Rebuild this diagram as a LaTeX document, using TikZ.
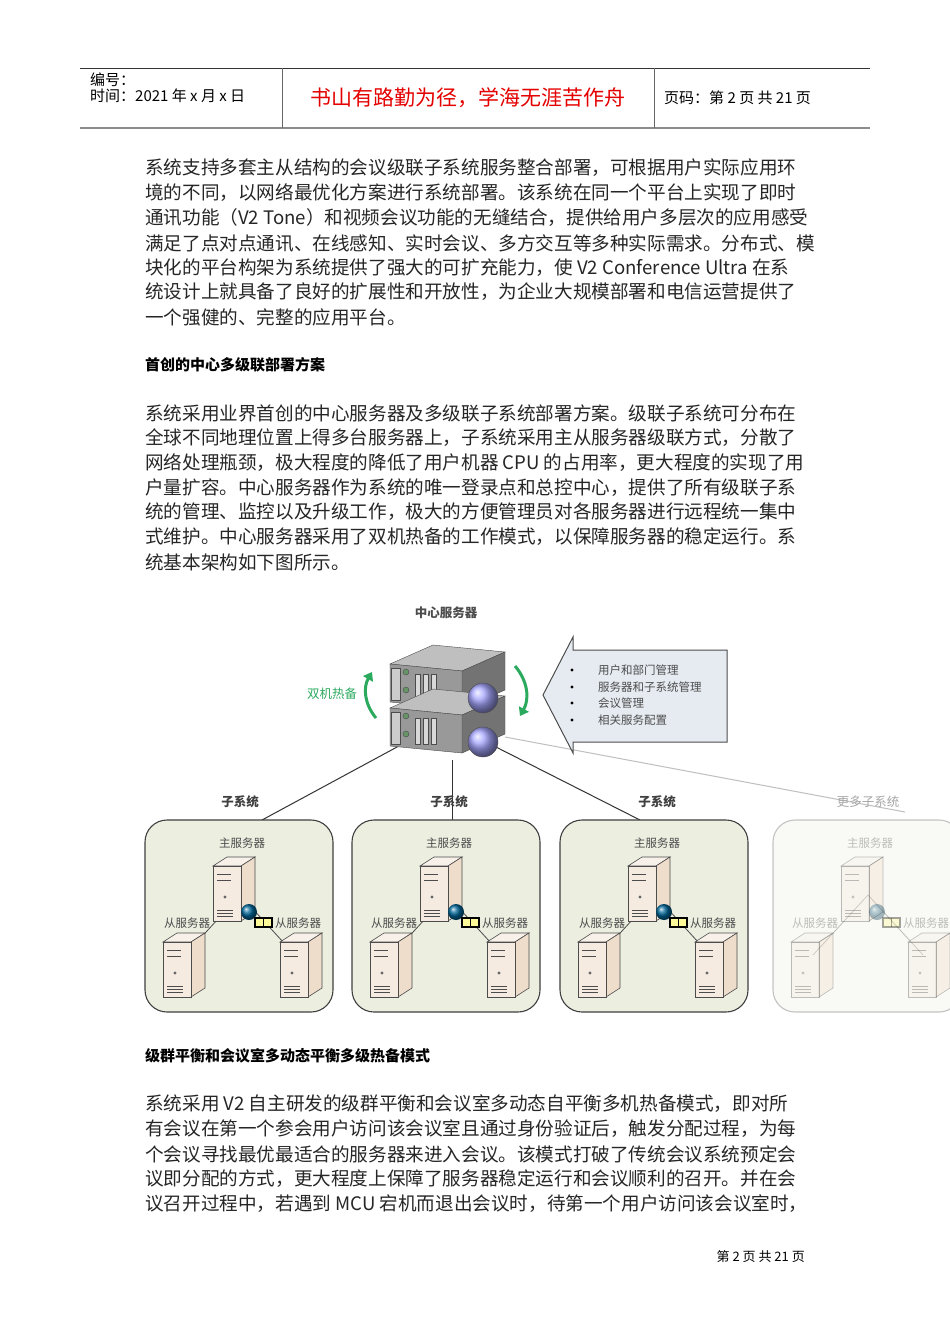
\documentclass[tikz,border=0pt]{standalone}
\usepackage{fontspec}
\setmainfont{Noto Sans CJK SC}
\usetikzlibrary{arrows.meta}
\definecolor{boxfill}{HTML}{ECEEE0}
\definecolor{arrfill}{HTML}{E6EBF1}
\definecolor{hot}{HTML}{2BAA5E}
\tikzset{x=1pt,y=-1pt,
 body/.style={anchor=west,inner sep=0pt,font=\fontsize{18.6}{22}\selectfont,text=black!85},
 head/.style={anchor=west,inner sep=0pt,font=\fontsize{15}{18}\selectfont\bfseries},
 small/.style={inner sep=0pt,font=\fontsize{11.5}{14}\selectfont,text=black!70},
 sub/.style={draw=black!75,line width=1.1pt,rounded corners=22pt,fill=boxfill},
 link/.style={draw=black!80,line width=1pt},
 hotarr/.style={draw=hot,line width=3pt,-{Triangle[length=8pt,width=11pt]}},
 pics/tower/.style={code={
   \fill[fill=#1!25!white,draw=black!70,line width=.6pt] (0,0)--(14,-9)--(42,-9)--(28,0)--cycle;
   \fill[fill=#1!60!white,draw=black!70,line width=.6pt] (28,0)--(42,-9)--(42,46)--(28,55)--cycle;
   \fill[fill=#1!35!white,draw=black!70,line width=.6pt] (0,0) rectangle (28,55);
   \draw[black!70,line width=1pt] (4,8)--(18,8) (4,14)--(18,14) (4,44)--(20,44) (4,47)--(20,47) (4,50)--(20,50);
   \fill[black!60] (12,31) circle (1.6);
 }}}
\begin{document}
\begin{tikzpicture}
\useasboundingbox (0,0) rectangle (950,1344);
\fill[white] (0,0) rectangle (950,1344);
% header
\draw[black!80,line width=0.8pt] (80,68)--(870,68);
\draw[black!45,line width=2pt] (80,128)--(870,128);
\draw[black!60,line width=0.8pt] (282,68)--(282,128) (654,68)--(654,128);
\node[anchor=west,inner sep=0pt,font=\fontsize{15}{16}\selectfont,align=left] (hl) at (90,88) {编号：\\时间：2021 年 x 月 x 日};
\node[inner sep=0pt,font=\fontsize{21}{24}\selectfont,text=red!90!black] (hm) at (468,98) {书山有路勤为径，学海无涯苦作舟};
\node[anchor=west,inner sep=0pt,font=\fontsize{15}{16}\selectfont] (hr) at (664,98) {页码：第 2 页 共 21 页};
% paragraph 1
\node[body] (p1) at (145,168) {系统支持多套主从结构的会议级联子系统服务整合部署，可根据用户实际应用环};
\node[body] (p2) at (145,193) {境的不同，以网络最优化方案进行系统部署。该系统在同一个平台上实现了即时};
\node[body] (p3) at (145,218) {通讯功能（V2 Tone）和视频会议功能的无缝结合，提供给用户多层次的应用感受};
\node[body] (p4) at (145,243) {满足了点对点通讯、在线感知、实时会议、多方交互等多种实际需求。分布式、模};
\node[body] (p5) at (145,268) {块化的平台构架为系统提供了强大的可扩充能力，使 V2 Conference Ultra 在系};
\node[body] (p6) at (145,292) {统设计上就具备了良好的扩展性和开放性，为企业大规模部署和电信运营提供了};
\node[body] (p7) at (145,317) {一个强健的、完整的应用平台。};
\node[head] (h1) at (145,365) {首创的中心多级联部署方案};
\node[body] (q1) at (145,413) {系统采用业界首创的中心服务器及多级联子系统部署方案。级联子系统可分布在};
\node[body] (q2) at (145,438) {全球不同地理位置上得多台服务器上，子系统采用主从服务器级联方式，分散了};
\node[body] (q3) at (145,463) {网络处理瓶颈，极大程度的降低了用户机器 CPU 的占用率，更大程度的实现了用};
\node[body] (q4) at (145,488) {户量扩容。中心服务器作为系统的唯一登录点和总控中心，提供了所有级联子系};
\node[body] (q5) at (145,512) {统的管理、监控以及升级工作，极大的方便管理员对各服务器进行远程统一集中};
\node[body] (q6) at (145,537) {式维护。中心服务器采用了双机热备的工作模式，以保障服务器的稳定运行。系};
\node[body] (q7) at (145,562) {统基本架构如下图所示。};
% diagram: subsystem links
\coordinate (c1) at (410,740); \coordinate (c2) at (452,760); \coordinate (c3) at (492,745); \coordinate (c4) at (505,737);
\draw[link] (c1)--(262,820);
\draw[link] (c2)--(452,820);
\draw[link] (c3)--(640,820);
\draw[black!25,line width=1pt] (c4)--(905,812);
% callout arrow
\fill[arrfill,draw=black!70,line width=1pt] (543,695)--(573,637)--(573,650)--(727,650)--(727,742)--(573,742)--(573,753)--cycle;
\foreach \t/\y in {用户和部门管理/670,服务器和子系统管理/687,会议管理/703,相关服务配置/720}{
  \fill[black] (572,\y) circle (1.6);
  \node[anchor=west,small] at (598,\y) {\t};}
% central servers
\foreach \dy in {0,44}{
 \begin{scope}[yshift=-\dy pt]
  \fill[fill=black!25,draw=black!70] (390,664)--(433,645)--(505,652)--(462,671)--cycle;
  \fill[fill=black!55,draw=black!70] (462,671)--(505,652)--(505,690)--(462,709)--cycle;
  \fill[fill=black!40,draw=black!70] (390,664)--(462,671)--(462,709)--(390,702)--cycle;
  \fill[black!20,draw=black!70] (391,668) rectangle (400,700);
  \fill[green!30!black!60,draw=black!70] (406,672) circle (3) (406,690) circle (3);
  \foreach \x in {415,423,431}{\fill[black!15,draw=black!70] (\x,674) rectangle (\x+5,700);}
 \end{scope}}
\foreach \dy in {0,44}{
  \shade[ball color=blue!35!white,draw=black!70,yshift=-\dy pt] (483,698) circle (15);}
\node[inner sep=0pt,font=\fontsize{12.5}{14}\selectfont\bfseries,text=black!70] (cs) at (446,613) {中心服务器};
\node[inner sep=0pt,font=\fontsize{12.5}{14}\selectfont,text=hot] (hb) at (332,694) {双机热备};
\draw[hotarr] (376,718) to[bend left=35] (372,672);
\draw[hotarr] (515,666) to[bend left=35] (520,716);
% subsystems
\foreach \x/\op in {145/100,352/100,560/100,773/30}{
 \begin{scope}[opacity=\op/100]
  \draw[sub] (\x,820) rectangle (\x+188,1012);
 \end{scope}}
\clip (0,0) rectangle (950,1344);
\foreach \x/\op in {145/100,352/100,560/100,773/35}{
 \begin{scope}[opacity=\op/100]
  \draw[black!70,line width=.8pt] (\x+95,895)--(\x+40,955) (\x+95,895)--(\x+150,955);
  \pic at (\x+68,866) {tower=brown!45!white};
  \pic at (\x+18,942) {tower=brown!45!white};
  \pic at (\x+135,942) {tower=brown!45!white};
  \shade[ball color=blue!60!green] (\x+104,912) circle (8);
  \fill[yellow!40,draw=black,line width=1.2pt] (\x+110,918) rectangle (\x+127,927);
  \draw[black,line width=1.2pt] (\x+118.5,918)--(\x+118.5,927);
  \node[small] at (\x+97,843) {主服务器};
  \node[small] at (\x+42,923) {从服务器};
  \node[small] at (\x+153,923) {从服务器};
 \end{scope}}
\node[inner sep=0pt,font=\fontsize{12.5}{14}\selectfont\bfseries,text=black!75] (s1) at (240,802) {子系统};
\node[inner sep=0pt,font=\fontsize{12.5}{14}\selectfont\bfseries,text=black!75] (s2) at (449,802) {子系统};
\node[inner sep=0pt,font=\fontsize{12.5}{14}\selectfont\bfseries,text=black!75] (s3) at (657,802) {子系统};
\node[inner sep=0pt,font=\fontsize{12.5}{14}\selectfont,text=black!35] (s4) at (868,802) {更多子系统};
% section 2
\node[head] (h2) at (145,1056) {级群平衡和会议室多动态平衡多级热备模式};
\node[body] (r1) at (145,1104) {系统采用 V2 自主研发的级群平衡和会议室多动态自平衡多机热备模式，即对所};
\node[body] (r2) at (145,1129) {有会议在第一个参会用户访问该会议室且通过身份验证后，触发分配过程，为每};
\node[body] (r3) at (145,1154) {个会议寻找最优最适合的服务器来进入会议。该模式打破了传统会议系统预定会};
\node[body] (r4) at (145,1179) {议即分配的方式，更大程度上保障了服务器稳定运行和会议顺利的召开。并在会};
\node[body] (r5) at (145,1204) {议召开过程中，若遇到 MCU 宕机而退出会议时，待第一个用户访问该会议室时，};
\node[anchor=east,inner sep=0pt,font=\fontsize{13}{15}\selectfont] (ft) at (805,1257) {第 2 页 共 21 页};
\end{tikzpicture}
\end{document}
